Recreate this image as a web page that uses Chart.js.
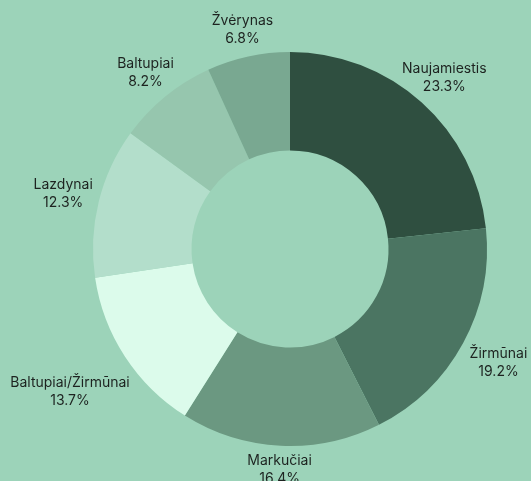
<!DOCTYPE html>
<html>
<head>
<meta charset="utf-8">
<script src="https://cdn.jsdelivr.net/npm/chart.js@4"></script>
<style>
  html, body { margin: 0; padding: 0; background: #9cd3b9; }
  #wrap { width: 531px; height: 481px; }
</style>
</head>
<body>
<div id="wrap"><canvas id="myChart"></canvas></div>
<script>
const districts = ['Naujamiestis', 'Žirmūnai', 'Markučiai', 'Baltupiai/Žirmūnai', 'Lazdynai', 'Baltupiai', 'Žvėrynas'];
const shares = [23.3, 19.2, 16.4, 13.7, 12.3, 8.2, 6.8];
const sliceColors = ['#2f4f40', '#4b7562', '#6b9881', '#dcfbeb', '#b3decb', '#96c6ae', '#79a891'];

// draws "name / pct%" outside each slice, box pushed out until it clears the ring
const outerLabels = {
    id: 'outerLabels',
    afterDatasetsDraw(chart) {
        const ctx = chart.ctx;
        const meta = chart.getDatasetMeta(0);
        const lh = 18;
        const gap = 6;
        ctx.save();
        ctx.font = '14px Inter, "DejaVu Sans", sans-serif';
        ctx.fillStyle = '#1d2320';
        ctx.textAlign = 'center';
        ctx.textBaseline = 'middle';
        meta.data.forEach((arc, i) => {
            const p = arc.getProps(['x', 'y', 'startAngle', 'endAngle', 'outerRadius'], true);
            const mid = (p.startAngle + p.endAngle) / 2;
            const vx = Math.cos(mid), vy = Math.sin(mid);
            const lines = [districts[i], shares[i].toFixed(1) + '%'];
            const widths = lines.map(s => ctx.measureText(s).width);
            const w = Math.max(...widths);
            const minR = p.outerRadius + gap;
            let t = Math.min((w / 2) / Math.max(Math.abs(vx), 1e-6), lh / Math.max(Math.abs(vy), 1e-6));
            const clear = (cx, cy) => lines.every((s, k) => {
                const x0 = cx - widths[k] / 2, x1 = cx + widths[k] / 2;
                const y0 = cy - lh + k * lh, y1 = y0 + lh;
                const nx = Math.max(x0, Math.min(0, x1));
                const ny = Math.max(y0, Math.min(0, y1));
                return Math.hypot(nx, ny) >= minR;
            });
            while (!clear(vx * (minR + t), vy * (minR + t)) && t < 200) t += 0.5;
            const x = p.x + vx * (minR + t);
            const y = p.y + vy * (minR + t);
            ctx.fillText(lines[0], x, y - lh / 2);
            ctx.fillText(lines[1], x, y + lh / 2);
        });
        ctx.restore();
    }
};

new Chart(document.getElementById('myChart'), {
    type: 'doughnut',
    data: {
        labels: districts,
        datasets: [{
            data: shares,
            backgroundColor: sliceColors,
            borderWidth: 0
        }]
    },
    options: {
        responsive: true,
        maintainAspectRatio: false,
        animation: false,
        cutout: '50%',
        layout: { padding: { top: 52, bottom: 35, left: 49, right: 0 } },
        plugins: {
            legend: { display: false },
            tooltip: { enabled: false }
        }
    },
    plugins: [outerLabels]
});
</script>
</body>
</html>
